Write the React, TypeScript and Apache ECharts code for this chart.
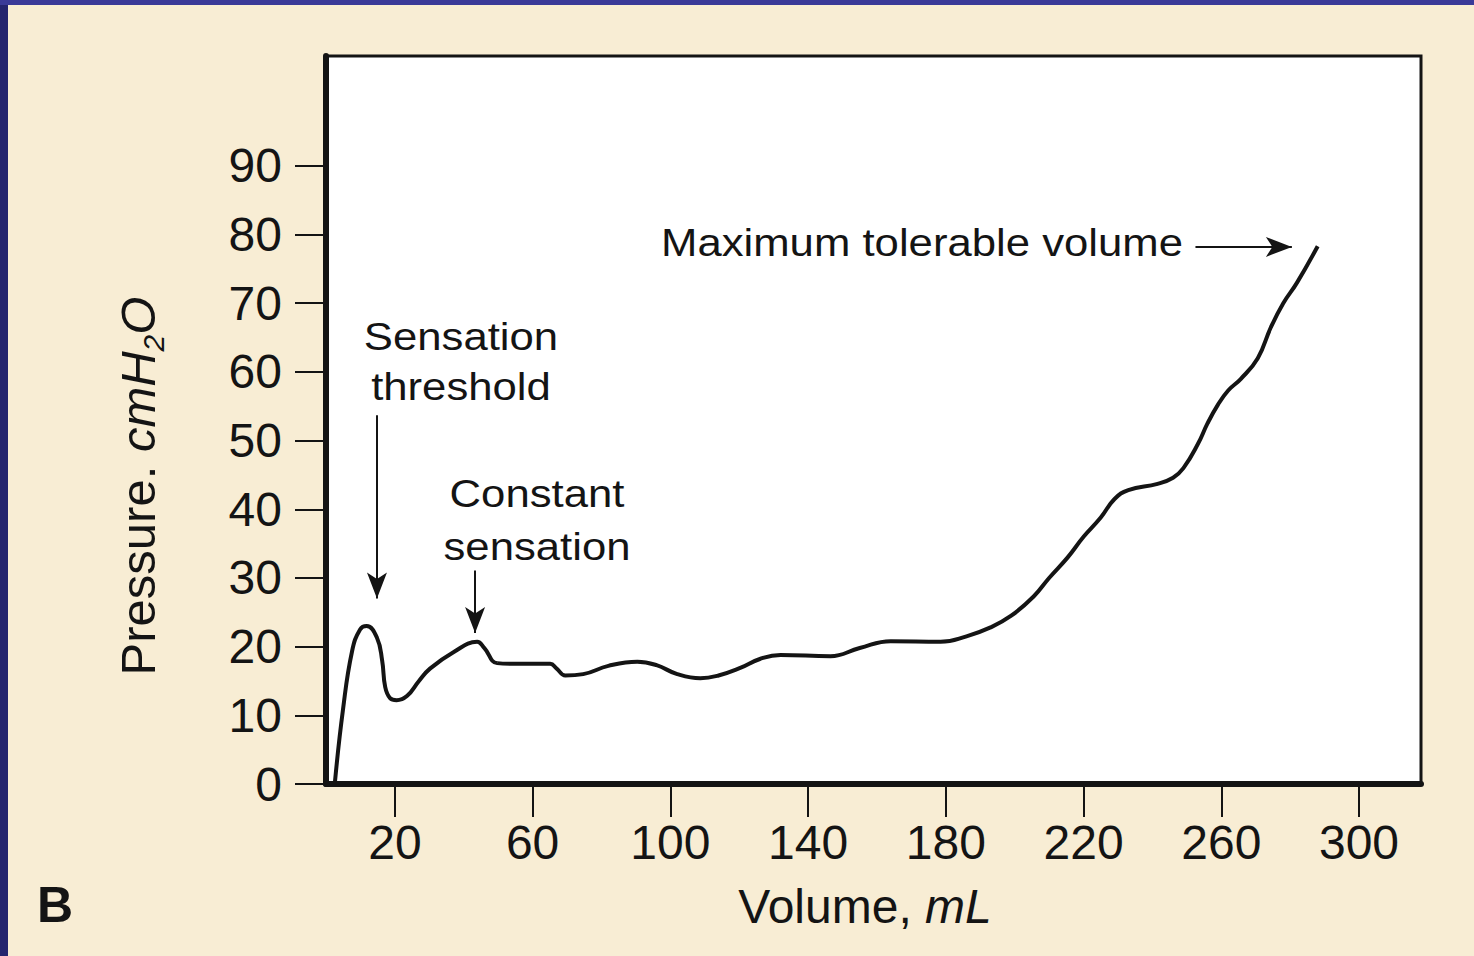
import React, { useEffect, useRef } from "react";
import * as echarts from "echarts";

// Data
const volume = [2.6, 4.9, 7.6, 9.9, 11.8, 14.8, 16.3, 17.2, 18.6, 20.5, 23.5, 27, 30.2, 37, 43.9, 46, 49.7, 55, 65.1, 67, 69.5, 74.7, 82, 90.4, 96, 102, 108.7, 114, 120.3, 126, 132, 146.5, 155, 164, 178.5, 186, 193, 199, 205.5, 210, 215.4, 220, 225, 229, 233, 241.5, 246, 249, 253.2, 256, 259, 262, 265.7, 270.6, 274.4, 278, 282, 288];
const pressure = [0.3, 10.7, 19.4, 22.5, 23, 21.3, 18, 14.1, 12.5, 12.2, 12.8, 15, 16.8, 19.2, 20.7, 19.8, 17.6, 17.5, 17.5, 16.8, 15.8, 16, 17.2, 17.8, 17.3, 16, 15.4, 15.8, 16.9, 18.2, 18.8, 18.6, 19.8, 20.8, 20.7, 21.5, 22.8, 24.5, 27.3, 30, 33, 36, 38.8, 41.5, 42.8, 43.7, 44.6, 46, 49.5, 52.5, 55.2, 57.3, 59, 62, 66.5, 70, 73, 78.3];
const xTicks = [20, 60, 100, 140, 180, 220, 260, 300];
const yTicks = [0, 10, 20, 30, 40, 50, 60, 70, 80, 90];

// Annotation arrows (data coordinates: [volume, pressure] start -> end)
const arrowThreshold = [[14.8, 53.7], [14.8, 27.0]];
const arrowConstant = [[43.3, 31.1], [43.3, 22.0]];
const arrowMaximum = [[252.5, 78.2], [280.5, 78.2]];

export default function App() {
  const ref = useRef<HTMLDivElement>(null);
  useEffect(() => {
    if (!ref.current) return;
    const chart = echarts.init(ref.current, null, { renderer: "svg" });
    const ink = "#141414";
    const font = "'Liberation Sans', Arial, Helvetica, sans-serif";
    const arrowLine = (pts: number[][]) => [
      { coord: pts[0], symbol: "none" },
      { coord: pts[1], symbol: "arrow" },
    ];
    const annText = (text: string, x: number, y: number) => ({
      type: "text",
      x,
      y,
      scaleX: 1.15,
      silent: true,
      style: {
        text,
        x: 0,
        y: 0,
        fill: ink,
        font: `38px ${font}`,
        textAlign: "center",
        textVerticalAlign: "middle",
      },
    });
    chart.setOption({
      animation: false,
      backgroundColor: "#f8edd4",
      grid: {
        left: 326,
        top: 56,
        width: 1095,
        height: 728,
        show: true,
        backgroundColor: "#ffffff",
        borderColor: ink,
        borderWidth: 3,
      },
      xAxis: {
        type: "value",
        min: 0,
        max: 318,
        axisLine: { show: true, lineStyle: { color: ink, width: 6 } },
        axisTick: {
          show: true,
          length: 33,
          customValues: xTicks,
          lineStyle: { color: ink, width: 2 },
        },
        axisLabel: {
          customValues: xTicks,
          margin: 34,
          color: ink,
          fontSize: 48,
          fontFamily: font,
        },
        splitLine: { show: false },
      },
      yAxis: {
        type: "value",
        min: 0,
        max: 106,
        axisLine: { show: true, lineStyle: { color: ink, width: 6 } },
        axisTick: {
          show: true,
          length: 31,
          customValues: yTicks,
          lineStyle: { color: ink, width: 2 },
        },
        axisLabel: {
          customValues: yTicks,
          margin: 44,
          color: ink,
          fontSize: 48,
          fontFamily: font,
        },
        splitLine: { show: false },
      },
      series: [
        {
          type: "line",
          data: volume.map((v, i) => [v, pressure[i]]),
          symbol: "none",
          smooth: 0.45,
          lineStyle: { color: ink, width: 4 },
          silent: true,
          markLine: {
            silent: true,
            symbolSize: [15, 26],
            label: { show: false },
            emphasis: { disabled: true },
            lineStyle: { color: ink, width: 2, type: "solid" },
            data: [arrowLine(arrowThreshold), arrowLine(arrowConstant), arrowLine(arrowMaximum)],
          },
        },
      ],
      graphic: [
        { type: "rect", shape: { x: 0, y: 0, width: 8, height: 956 }, style: { fill: "#24246e" }, silent: true },
        { type: "rect", shape: { x: 0, y: 0, width: 1474, height: 5 }, style: { fill: "#3a3a98" }, silent: true },
        annText("Sensation", 461, 337),
        annText("threshold", 461, 387),
        annText("Constant", 537, 494),
        annText("sensation", 537, 547),
        annText("Maximum tolerable volume", 922, 243),
        {
          type: "text",
          x: 865,
          y: 906,
          silent: true,
          style: {
            text: "Volume, {i|mL}",
            fill: ink,
            font: `48px ${font}`,
            textAlign: "center",
            textVerticalAlign: "middle",
            rich: {
              i: { fontStyle: "italic", fontSize: 48, fontFamily: font, fill: ink },
            },
          },
        },
        {
          type: "text",
          x: 138,
          y: 486,
          rotation: Math.PI / 2,
          silent: true,
          style: {
            text: "{n|Pressure. }{i|cmH}{sub|2}{i|O}",
            fill: ink,
            textAlign: "center",
            textVerticalAlign: "middle",
            rich: {
              n: { fontSize: 49, fontFamily: font, fill: ink, lineHeight: 60 },
              i: { fontStyle: "italic", fontSize: 49, fontFamily: font, fill: ink, lineHeight: 60 },
              sub: { fontStyle: "italic", fontSize: 30, fontFamily: font, fill: ink, verticalAlign: "bottom", lineHeight: 30 },
            },
          },
        },
        {
          type: "text",
          x: 55,
          y: 905,
          silent: true,
          style: {
            text: "B",
            fill: ink,
            font: `bold 50px ${font}`,
            textAlign: "center",
            textVerticalAlign: "middle",
          },
        },
      ],
    });
    return () => chart.dispose();
  }, []);
  return (
    <div
      ref={ref}
      style={{ position: "fixed", left: 0, top: 0, width: 1474, height: 956 }}
    />
  );
}
